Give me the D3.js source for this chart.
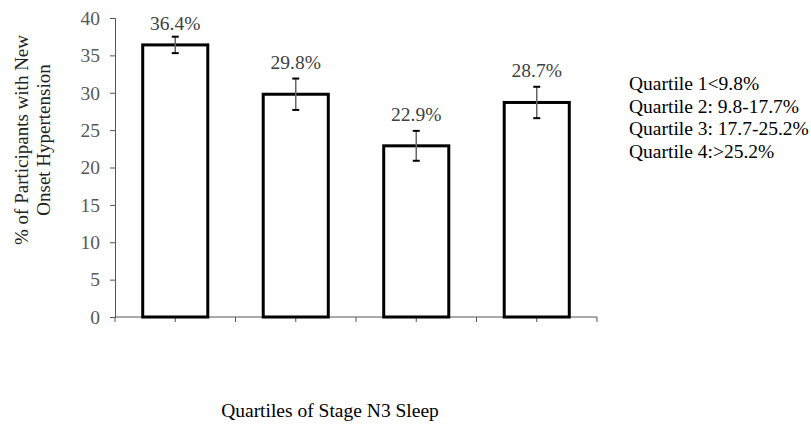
<!DOCTYPE html>
<html>
<head>
<meta charset="utf-8">
<script src="https://cdn.jsdelivr.net/npm/d3@7"></script>
<style>
  body { margin: 0; background: #fff; }
</style>
</head>
<body>
<div id="chart"></div>
<script>
// Chart data
var quartiles = ["Q1", "Q2", "Q3", "Q4"];
var values = [36.4, 29.8, 22.9, 28.7];
var errors = [1.1, 2.1, 2.0, 2.1];
var yTicks = [0, 5, 10, 15, 20, 25, 30, 35, 40];
var legendLines = ["Quartile 1<9.8%", "Quartile 2: 9.8-17.7%", "Quartile 3: 17.7-25.2%", "Quartile 4:>25.2%"];

var FONT = "Liberation Serif";

var svgWidth = 811;
var svgHeight = 424;

var margin = { top: 18, right: 214, bottom: 107, left: 115 };
var width = svgWidth - margin.left - margin.right;
var height = svgHeight - margin.top - margin.bottom;

var svg = d3.select("#chart")
    .append("svg")
    .attr("width", svgWidth)
    .attr("height", svgHeight);

var chartGroup = svg.append("g")
    .attr("transform", `translate(${margin.left}, ${margin.top})`);

var xScale = d3.scaleBand()
    .domain(quartiles)
    .range([0, width])
    .paddingInner(0.46)
    .paddingOuter(0.23);

var yScale = d3.scaleLinear()
    .domain([0, 40])
    .range([height, 0]);

// Y axis
var yAxis = chartGroup.append("g")
    .call(d3.axisLeft(yScale).tickValues(yTicks).tickSize(5).tickPadding(10));
yAxis.select(".domain").attr("stroke", "#555");
yAxis.selectAll(".tick line").attr("stroke", "#555");
yAxis.selectAll(".tick text")
    .style("font-family", FONT)
    .style("font-size", "19.5px")
    .attr("fill", "#595959");

// X axis line with ticks at bar centers and boundaries
var step = width / quartiles.length;
chartGroup.append("line")
    .attr("x1", 0).attr("x2", width)
    .attr("y1", height).attr("y2", height)
    .attr("stroke", "#555");
var tickPositions = d3.range(0, quartiles.length * 2 + 1).map(i => i * step / 2);
chartGroup.selectAll(".xtick")
    .data(tickPositions)
    .enter()
    .append("line")
    .attr("x1", d => d).attr("x2", d => d)
    .attr("y1", height).attr("y2", height + 5)
    .attr("stroke", "#555");

// Bars
chartGroup.selectAll(".bar")
    .data(values)
    .enter()
    .append("rect")
    .attr("x", (d, i) => xScale(quartiles[i]))
    .attr("y", d => yScale(d))
    .attr("width", xScale.bandwidth())
    .attr("height", d => height - yScale(d))
    .attr("fill", "#fff")
    .attr("stroke", "#000")
    .attr("stroke-width", 3);

// Error bars
var errGroup = chartGroup.selectAll(".err")
    .data(values)
    .enter()
    .append("g");
errGroup.append("line")
    .attr("x1", (d, i) => xScale(quartiles[i]) + xScale.bandwidth() / 2)
    .attr("x2", (d, i) => xScale(quartiles[i]) + xScale.bandwidth() / 2)
    .attr("y1", (d, i) => yScale(d + errors[i]))
    .attr("y2", (d, i) => yScale(d - errors[i]))
    .attr("stroke", "#666")
    .attr("stroke-width", 1.5);
[1, -1].forEach(function (sign) {
    errGroup.append("line")
        .attr("x1", (d, i) => xScale(quartiles[i]) + xScale.bandwidth() / 2 - 3.5)
        .attr("x2", (d, i) => xScale(quartiles[i]) + xScale.bandwidth() / 2 + 3.5)
        .attr("y1", (d, i) => yScale(d + sign * errors[i]))
        .attr("y2", (d, i) => yScale(d + sign * errors[i]))
        .attr("stroke", "#000")
        .attr("stroke-width", 2);
});

// Value labels
chartGroup.selectAll(".vlabel")
    .data(values)
    .enter()
    .append("text")
    .attr("x", (d, i) => xScale(quartiles[i]) + xScale.bandwidth() / 2)
    .attr("y", (d, i) => i === 0 ? yScale(d + errors[i]) - 7 : yScale(d + errors[i]) - 10)
    .attr("text-anchor", "middle")
    .style("font-family", FONT)
    .style("font-size", "19.5px")
    .attr("fill", "#404040")
    .text(d => d.toFixed(1) + "%");

// Y axis title
var yTitle = svg.append("text")
    .attr("transform", "translate(28, 140) rotate(-90)")
    .attr("text-anchor", "middle")
    .style("font-family", FONT)
    .style("font-size", "19px")
    .attr("fill", "#222");
yTitle.append("tspan").attr("x", 0).attr("dy", 0).text("% of Participants with New");
yTitle.append("tspan").attr("x", 0).attr("dy", 22).text("Onset Hypertension");

// X axis title
svg.append("text")
    .attr("x", 330)
    .attr("y", 417)
    .attr("text-anchor", "middle")
    .style("font-family", FONT)
    .style("font-size", "19.5px")
    .attr("fill", "#000")
    .text("Quartiles of Stage N3 Sleep");

// Legend text
svg.selectAll(".legend")
    .data(legendLines)
    .enter()
    .append("text")
    .attr("x", 629)
    .attr("y", (d, i) => 90 + i * 22.7)
    .style("font-family", FONT)
    .style("font-size", "19.5px")
    .attr("fill", "#000")
    .text(d => d);
</script>
</body>
</html>
